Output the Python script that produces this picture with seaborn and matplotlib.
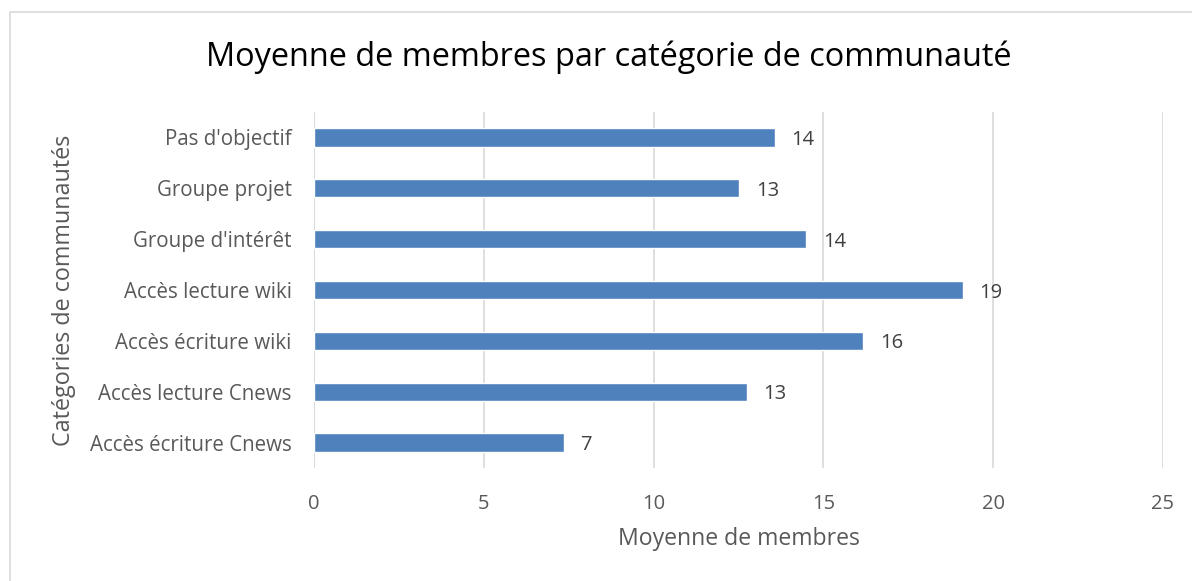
import matplotlib
matplotlib.use("Agg")
import matplotlib.pyplot as plt
import pandas as pd
import seaborn as sns
from matplotlib.patches import Rectangle

categories = ["Pas d'objectif", "Groupe projet", "Groupe d'intérêt",
              "Accès lecture wiki", "Accès écriture wiki",
              "Accès lecture Cnews", "Accès écriture Cnews"]
moyennes = [13.57, 12.52, 14.49, 19.11, 16.17, 12.75, 7.36]
x_ticks = [0, 5, 10, 15, 20, 25]


def main():
    sns.set_theme(style="white")
    plt.rcParams['font.family'] = ['Open Sans', 'DejaVu Sans']

    df = pd.DataFrame({"categorie": categories, "moyenne": moyennes})

    fig = plt.figure(figsize=(11.92, 5.81), dpi=100)
    ax = fig.add_axes([314 / 1192, 1 - 468 / 581, (1163 - 314) / 1192,
                       (468 - 112) / 581])

    sns.barplot(data=df, x="moyenne", y="categorie", color="#4F81BD",
                saturation=1, width=0.36, ax=ax, zorder=3)

    for c in ax.containers:
        labels = ax.bar_label(c, fmt="%.0f", padding=12, fontsize=14.5,
                              color="#404040")
        for t in labels:
            t.set_va("center_baseline")

    ax.set_xlim(0, 25)
    ax.set_ylim(6.5, -0.5)
    ax.set_xticks(x_ticks)
    ax.grid(axis="x", color="#d9d9d9", linewidth=1.2, zorder=0)
    for s in ["top", "right", "bottom", "left"]:
        ax.spines[s].set_visible(False)
    ax.axvline(0, color="#d9d9d9", linewidth=1.2, zorder=1)

    ax.tick_params(axis="x", labelsize=14.5, labelcolor="#595959", length=0,
                   pad=19)
    ax.tick_params(axis="y", labelsize=14.8, labelcolor="#595959", length=0,
                   pad=16)
    ax.set_xlabel("Moyenne de membres", fontsize=16.6, color="#595959",
                  labelpad=9)
    ax.set_ylabel("Catégories de communautés", fontsize=16.8, color="#595959",
                  labelpad=10)

    fig.text(609 / 1192, 1 - 57 / 581,
             "Moyenne de membres par catégorie de communauté",
             ha="center", va="center", fontsize=23.4, color="black")

    fig.patches.append(Rectangle((10 / 1192, -0.05), 1.2, 1 - 12 / 581 + 0.05,
                                 transform=fig.transFigure, fill=False,
                                 edgecolor="#d9d9d9", linewidth=1.2))

    fig.savefig("out.png", dpi=100)


if __name__ == "__main__":
    main()
